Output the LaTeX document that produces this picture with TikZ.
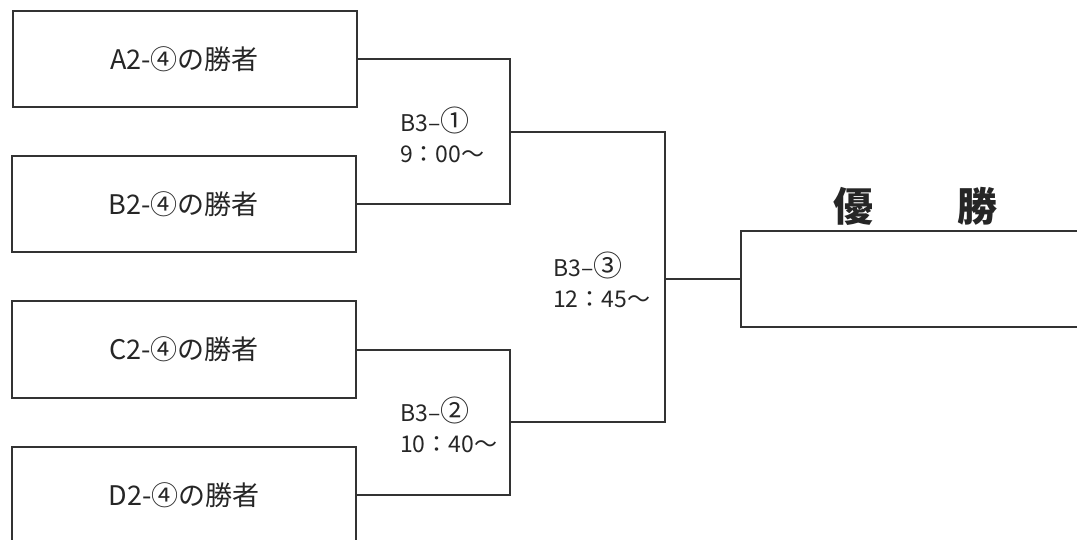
\documentclass[tikz,border=0pt]{standalone}
\usepackage{fontspec}
\setmainfont{Noto Sans CJK JP}
\newcommand{\gamenum}[1]{{\fontsize{29}{29}\selectfont #1}}
\begin{document}
\begin{tikzpicture}[x=1pt,y=-1pt,
  ln/.style={draw=black!80,line width=2pt},
  team/.style={ln,rectangle,minimum width=344pt,minimum height=96pt,inner sep=0pt,font=\fontsize{27}{29}\selectfont,text=black!85},
  champ/.style={ln,rectangle,minimum width=380pt,minimum height=96pt,inner sep=0pt},
  game/.style={anchor=west,align=left,inner sep=0pt,font=\fontsize{23}{31}\selectfont,text=black!85},
  title/.style={inner sep=0pt,font=\fontsize{40}{40}\selectfont\bfseries,text=black!85}]
\useasboundingbox (0,0) rectangle (1077,540);
\node[team] (a) at (184.5,59) {A2-④の勝者};
\node[team] (b) at (183.5,204.5) {B2-④の勝者};
\node[team] (c) at (184,349.5) {C2-④の勝者};
\node[team] (d) at (184,495) {D2-④の勝者};
\node[champ] (w) at (931,279) {};
\node[title] (t1) at (853,206) {優};
\node[title] (t2) at (977,206) {勝};
\coordinate (j1) at (510,132);
\coordinate (j2) at (510,422);
\coordinate (j3) at (665,279);
\draw[ln] (a.east) -| (j1) |- (b.east);
\draw[ln] (c.east) -| (j2) |- (d.east);
\draw[ln] (j1) -| (j3) |- (j2);
\draw[ln] (j3) -- (w.west);
\node[game] (g1) at (400,135) {B3–\gamenum{①}\\9：00〜};
\node[game] (g2) at (400,425) {B3–\gamenum{②}\\10：40〜};
\node[game] (g3) at (553,280) {B3–\gamenum{③}\\12：45〜};
\end{tikzpicture}
\end{document}
